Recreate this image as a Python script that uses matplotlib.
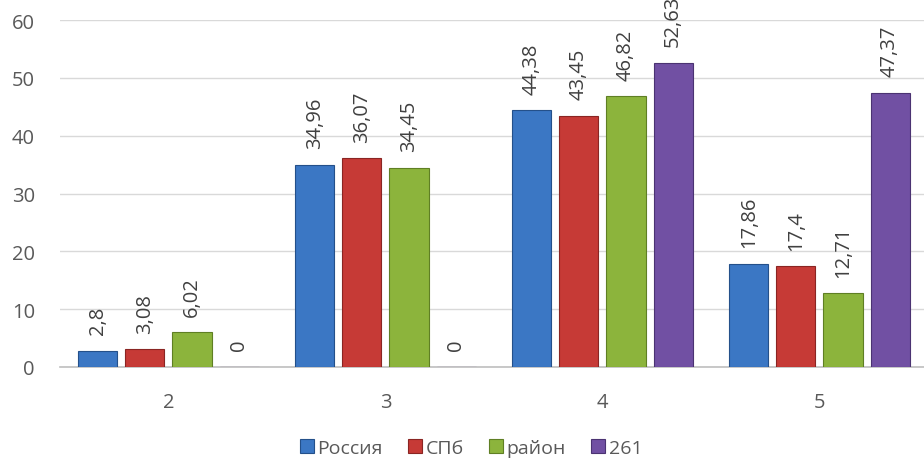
import numpy as np
import matplotlib.pyplot as plt

plt.rcParams['font.family'] = ['Open Sans', 'DejaVu Sans']

categories = ['2', '3', '4', '5']
series_names = ['Россия', 'СПб', 'район', '261']
russia = [2.8, 34.96, 44.38, 17.86]
spb = [3.08, 36.07, 43.45, 17.4]
rayon = [6.02, 34.45, 46.82, 12.71]
school = [0, 0, 52.63, 47.37]

colors = ['#3b77c4', '#c63a36', '#8cb43c', '#7150a3']
edges = ['#24508a', '#8a2523', '#5f7f24', '#4b3372']

fig = plt.figure(figsize=(9.24, 4.64), dpi=100)
ax = fig.add_axes([0.0649, 0.2069, 0.9394, 0.7478])

x_pos = np.arange(len(categories))
step = 0.217
width = 0.18

for k, vals in enumerate([russia, spb, rayon, school]):
    xs = x_pos + (k - 1.5) * step
    bars = ax.bar(xs, vals, width, color=colors[k], edgecolor=edges[k],
                  linewidth=0.8, label=series_names[k], zorder=3)
    for xv, v in zip(xs, vals):
        txt = ('%g' % v).replace('.', ',')
        ax.annotate(txt, (xv, v), xytext=(0, 12), textcoords='offset points',
                    rotation=90, ha='center', va='bottom', fontsize=14.5,
                    color='#404040', annotation_clip=False, clip_on=False)

ax.set_xlim(-0.5, 3.5)
ax.set_ylim(0, 60)
ax.set_yticks(range(0, 61, 10))
ax.set_xticks(x_pos)
ax.set_xticklabels(categories)
ax.tick_params(axis='both', length=0, labelsize=14.5, colors='#595959')
ax.tick_params(axis='y', pad=18)
ax.tick_params(axis='x', pad=18)
ax.yaxis.grid(True, color='#d9d9d9', linewidth=1, zorder=0)
for s in ['top', 'right', 'left']:
    ax.spines[s].set_visible(False)
ax.spines['bottom'].set_color('#bfbfbf')
ax.spines['bottom'].set_linewidth(1.2)

fig.legend(loc='lower center', bbox_to_anchor=(0.51, -0.025), ncol=4, frameon=False,
           fontsize=14, handlelength=0.7, handleheight=0.7, handletextpad=0.2,
           columnspacing=1.3, labelcolor='#595959')

fig.savefig('out.png', dpi=100)
